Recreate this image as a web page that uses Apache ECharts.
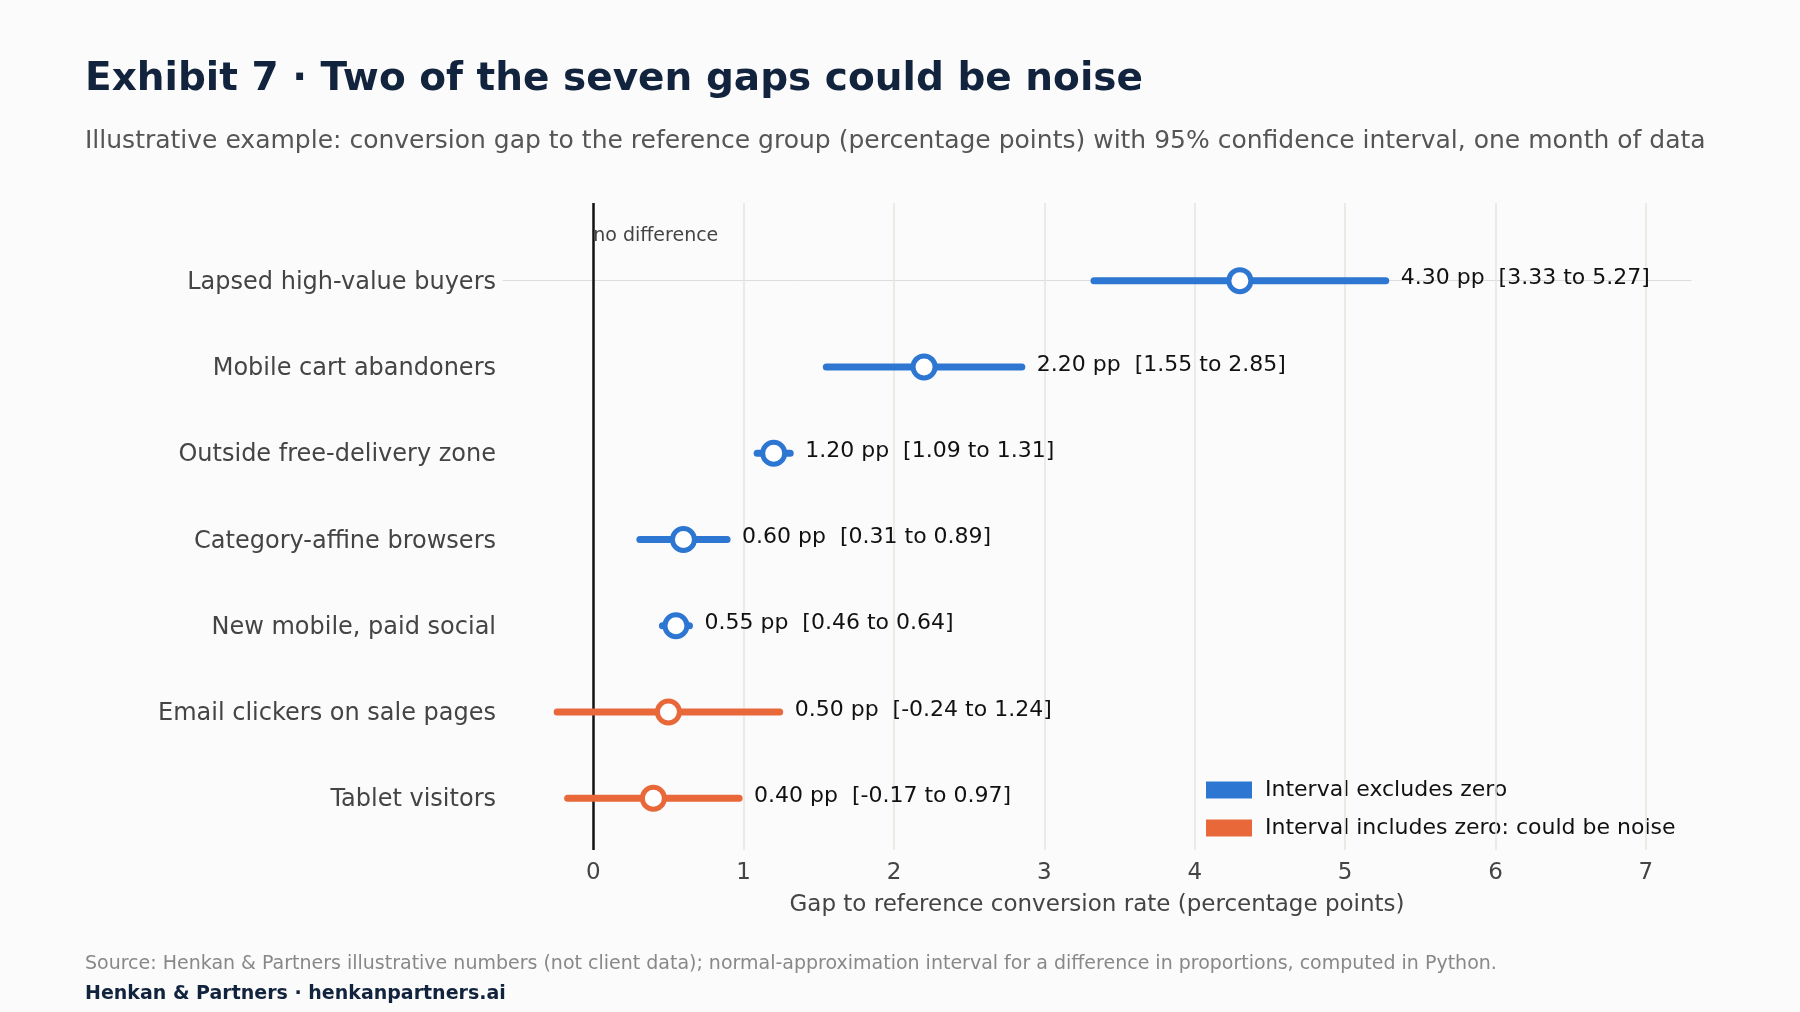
<!DOCTYPE html>
<html><head><meta charset="utf-8">
<script src="https://cdn.jsdelivr.net/npm/echarts@6/dist/echarts.min.js"></script>
<style>html,body{margin:0;background:#fbfbfb}#main{width:1800px;height:1012px}</style>
</head><body><div id="main"></div>
<script>
var segments = ['Lapsed high-value buyers', 'Mobile cart abandoners', 'Outside free-delivery zone',
  'Category-affine browsers', 'New mobile, paid social', 'Email clickers on sale pages', 'Tablet visitors'];
var gaps = [4.30, 2.20, 1.20, 0.60, 0.55, 0.50, 0.40];
var lows = [3.33, 1.55, 1.09, 0.31, 0.46, -0.24, -0.17];
var highs = [5.27, 2.85, 1.31, 0.89, 0.64, 1.24, 0.97];
var xTicks = [1, 2, 3, 4, 5, 6, 7];

var BLUE = '#2d76d2', ORANGE = '#e8683a';
var chart = echarts.init(document.getElementById('main'));

function rows(includesZero) {
  var out = [];
  segments.forEach(function (s, i) {
    var inc = lows[i] <= 0 && highs[i] >= 0;
    if (inc === includesZero) out.push([lows[i], highs[i], gaps[i], i]);
  });
  return out;
}
function fmt(v) { return v.toFixed(2); }

function renderRow(color) {
  return function (params, api) {
    var lo = api.coord([api.value(0), api.value(3)]);
    var hi = api.coord([api.value(1), api.value(3)]);
    var pt = api.coord([api.value(2), api.value(3)]);
    var txt = fmt(api.value(2)) + ' pp  [' + fmt(api.value(0)) + ' to ' + fmt(api.value(1)) + ']';
    return {
      type: 'group',
      children: [
        { type: 'line', shape: { x1: lo[0], y1: lo[1], x2: hi[0], y2: hi[1] },
          style: { stroke: color, lineWidth: 7, lineCap: 'round' } },
        { type: 'circle', shape: { cx: pt[0], cy: pt[1], r: 11 },
          style: { fill: '#fff', stroke: color, lineWidth: 5 } },
        { type: 'text', x: hi[0] + 15, y: hi[1] - 2,
          style: { text: txt, fill: '#111', font: '22px "DejaVu Sans"', verticalAlign: 'middle' } }
      ]
    };
  };
}

var option = {
  backgroundColor: '#fbfbfb',
  textStyle: { fontFamily: 'DejaVu Sans' },
  title: [
    { text: 'Exhibit 7 · Two of the seven gaps could be noise', left: 80, top: 55,
      textStyle: { fontSize: 39, fontWeight: 'bold', color: '#12233d' } },
    { text: 'Illustrative example: conversion gap to the reference group (percentage points) with 95% confidence interval, one month of data',
      left: 80, top: 124, textStyle: { fontSize: 25, fontWeight: 'normal', color: '#555' } },
    { text: 'Source: Henkan & Partners illustrative numbers (not client data); normal-approximation interval for a difference in proportions, computed in Python.',
      left: 80, top: 950, textStyle: { fontSize: 19, fontWeight: 'normal', color: '#888' } },
    { text: 'Henkan & Partners · henkanpartners.ai', left: 80, top: 980,
      textStyle: { fontSize: 19, fontWeight: 'bold', color: '#12233d' } }
  ],
  legend: {
    left: 1201, top: 774, orient: 'vertical', itemWidth: 46, itemHeight: 17, itemGap: 16,
    icon: 'rect', textStyle: { fontSize: 22, color: '#111', padding: [0, 0, 0, 8] },
    data: ['Interval excludes zero', 'Interval includes zero: could be noise']
  },
  grid: { left: 503, right: 109, top: 203, bottom: 162 },
  xAxis: {
    type: 'value', min: -0.6, max: 7.3, splitNumber: 8,
    name: 'Gap to reference conversion rate (percentage points)', nameLocation: 'middle', nameGap: 44,
    nameTextStyle: { fontSize: 23, color: '#444' },
    axisLine: { show: true, lineStyle: { color: '#ddd' } }, axisTick: { show: false },
    splitLine: { show: false },
    axisLabel: { fontSize: 23, color: '#444', margin: 12,
      formatter: function (v) { return Math.abs(v - Math.round(v)) < 1e-6 ? String(Math.round(v)) : ''; },
      showMinLabel: false, showMaxLabel: false }
  },
  yAxis: { type: 'value', inverse: true, min: function () { return -0.9; }, max: function () { return 6.6; },
    show: false, splitLine: { show: false } },
  series: [
    { name: 'Interval excludes zero', type: 'custom', itemStyle: { color: BLUE }, clip: false, z: 5,
      data: rows(false), renderItem: renderRow(BLUE),
      markLine: { silent: true, symbol: 'none', label: { show: false },
        lineStyle: { color: '#e6e4de', width: 1.5, type: 'solid' },
        data: xTicks.map(function (t) { return { xAxis: t }; }) } },
    { name: 'Interval includes zero: could be noise', type: 'custom', itemStyle: { color: ORANGE }, clip: false, z: 5,
      data: rows(true), renderItem: renderRow(ORANGE),
      markLine: { silent: true, symbol: 'none',
        label: { show: true, position: 'start', formatter: 'no difference', color: '#444', fontSize: 19,
          align: 'left', verticalAlign: 'top', distance: [8, -24] },
        lineStyle: { color: '#111', width: 2.5, type: 'solid' }, data: [{ xAxis: 0 }] } },
    { type: 'custom', clip: false, silent: true,
      data: segments.map(function (s, i) { return [-0.6, i]; }),
      renderItem: function (params, api) {
        var p = api.coord([api.value(0), api.value(1)]);
        return { type: 'text', x: p[0] - 7, y: p[1] + 2,
          style: { text: segments[params.dataIndex], fill: '#444', font: '24px "DejaVu Sans"',
            align: 'right', verticalAlign: 'middle' } };
      } }
  ]
};
chart.setOption(option);
</script></body></html>
